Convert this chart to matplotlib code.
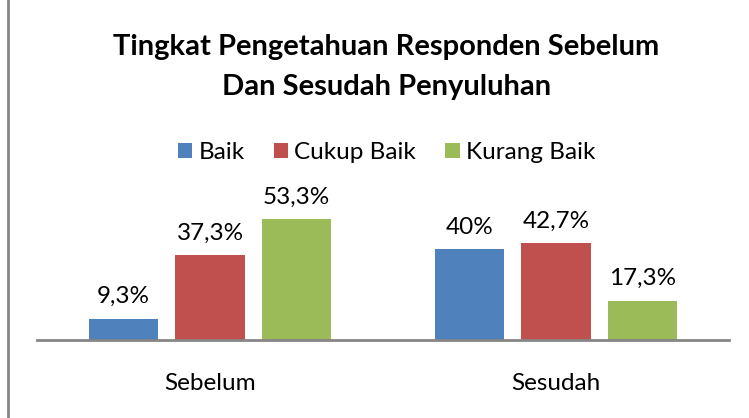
import numpy as np
import matplotlib.pyplot as plt

groups = ["Sebelum", "Sesudah"]
series = ["Baik", "Cukup Baik", "Kurang Baik"]
baik = [9.3, 40.0]
cukup = [37.3, 42.7]
kurang = [53.3, 17.3]
labels = [["9,3%", "40%"], ["37,3%", "42,7%"], ["53,3%", "17,3%"]]
colors = ["#4f81bd", "#c0504d", "#9bbb59"]
title = ["Tingkat Pengetahuan Responden Sebelum", "Dan Sesudah Penyuluhan"]

plt.rcParams['font.family'] = ['Lato', 'DejaVu Sans']

fig = plt.figure(figsize=(7.49, 4.18), dpi=100)
ax = fig.add_axes([37/749, 78/418, 692/749, 136/418])

x = np.arange(len(groups))
w = 0.2
for i, vals in enumerate([baik, cukup, kurang]):
    bars = ax.bar(x + (i - 1) * 0.25, vals, w, color=colors[i], label=series[i])
    for b, t in zip(bars, labels[i]):
        ax.text(b.get_x() + b.get_width() / 2, b.get_height() + 5.2, t,
                ha="center", va="bottom", fontsize=17.5, clip_on=False)

ax.set_xlim(-0.5, 1.5)
ax.set_ylim(0, 60)
ax.set_yticks([])
ax.set_xticks(x)
ax.set_xticklabels(groups, fontsize=17.5)
ax.tick_params(axis="x", length=0, pad=24)
for s in ["top", "right", "left"]:
    ax.spines[s].set_visible(False)
ax.spines["bottom"].set_color("#868686")
ax.spines["bottom"].set_linewidth(2)

fig.text(0.516, 1 - 47/418, title[0], ha="center", va="center",
         fontsize=21, fontweight="bold")
fig.text(0.516, 1 - 87/418, title[1], ha="center", va="center",
         fontsize=21, fontweight="bold")

fig.legend(loc="center", bbox_to_anchor=(0.516, 0.635), ncol=3, frameon=False,
           fontsize=17.5, handlelength=0.6, handleheight=0.6, handletextpad=0.25,
           columnspacing=1.2)

fig.add_artist(plt.Line2D([8/749, 8/749], [0, 1], color="#868686", lw=2))

fig.savefig("out.png", dpi=100)
